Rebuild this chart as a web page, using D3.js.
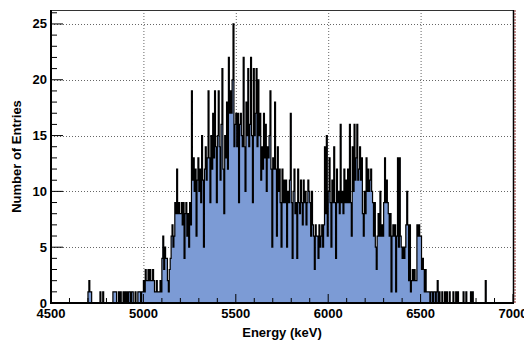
<!DOCTYPE html>
<html>
<head>
<meta charset="utf-8">
<script src="https://cdn.jsdelivr.net/npm/d3@7"></script>
<style>
  html, body { margin: 0; padding: 0; background: #fff; }
  svg { display: block; font-family: "Liberation Sans", Arial, sans-serif; }
  .tick-label { font-size: 13px; font-weight: bold; fill: #000; }
  .axis-title { font-size: 13px; font-weight: bold; fill: #000; }
</style>
</head>
<body>
<div id="chart"></div>
<script>
// Energy spectrum histogram, 5 keV bins from 4500 to 7000 keV

const BIN_START = 4500;
const BIN_WIDTH = 5;

// counts per bin, one row = 100 keV (20 bins)
const counts = [
  /* 4500 */ 0,0,0,0,0,0,0,0,0,0,0,0,0,0,0,0,0,0,0,0,
  /* 4600 */ 0,0,0,0,0,0,0,0,0,0,0,0,0,0,0,0,0,0,0,0,
  /* 4700 */ 1,2,1,1,0,0,0,0,0,0,0,0,0,1,0,0,1,0,0,0,
  /* 4800 */ 0,0,0,0,0,0,0,1,1,1,1,0,0,1,0,1,0,0,1,0,
  /* 4900 */ 1,0,1,0,1,1,0,1,1,0,0,1,0,0,1,1,1,0,1,1,
  /* 5000 */ 2,1,3,2,2,3,2,3,2,2,3,2,1,1,2,1,1,1,2,1,
  /* 5100 */ 4,6,3,5,4,4,2,1,3,4,6,7,5,6,9,8,12,8,9,8,
  /* 5200 */ 8,9,7,9,4,8,9,6,8,5,9,7,19,11,13,10,12,6,11,13,
  /* 5300 */ 10,12,9,15,11,5,12,14,11,13,19,13,9,15,12,17,13,19,14,9,
  /* 5400 */ 15,19,14,11,16,21,12,8,15,13,18,12,22,17,19,17,20,25,14,16,
  /* 5500 */ 17,14,17,9,16,17,15,14,22,14,10,18,15,21,14,16,22,15,9,21,
  /* 5600 */ 15,17,21,14,20,15,17,11,14,12,17,13,16,10,14,13,15,19,12,5,
  /* 5700 */ 13,12,18,12,6,14,10,12,9,5,12,9,11,9,11,5,10,9,11,17,
  /* 5800 */ 9,4,10,12,8,9,4,12,9,8,11,9,7,11,9,10,7,9,11,10,
  /* 5900 */ 9,6,10,7,6,3,7,6,6,4,7,5,6,7,5,7,14,8,15,6,
  /* 6000 */ 10,13,9,5,11,9,14,9,4,12,9,10,8,16,9,10,8,12,9,11,
  /* 6100 */ 9,12,9,16,9,6,14,10,16,11,13,16,11,12,14,11,13,8,6,10,
  /* 6200 */ 8,13,10,12,10,11,12,10,9,6,9,5,3,6,8,6,10,6,7,6,
  /* 6300 */ 9,13,9,11,9,8,6,8,1,6,7,6,7,1,6,13,5,13,6,5,
  /* 6400 */ 4,5,4,5,7,10,7,2,7,1,2,3,2,3,2,2,7,6,7,6,
  /* 6500 */ 6,3,4,3,1,3,1,1,1,1,0,1,1,0,1,1,0,1,2,0,
  /* 6600 */ 1,0,0,1,0,0,1,0,1,0,0,1,0,0,0,1,0,0,1,0,
  /* 6700 */ 1,0,0,0,0,0,1,0,0,1,0,0,0,0,1,0,1,0,0,0,
  /* 6800 */ 0,0,0,0,0,0,0,0,0,0,2,0,0,0,0,0,0,0,0,0,
  /* 6900 */ 0,0,0,0,0,0,0,0,0,0,0,0,0,0,0,0,0,0,0,0
];

const xMajor = [4500, 5000, 5500, 6000, 6500, 7000];
const yMajor = [0, 5, 10, 15, 20, 25];
const xTitle = 'Energy (keV)';
const yTitle = 'Number of Entries';

const W = 524, H = 344;
const m = { left: 51, right: 11, top: 10, bottom: 41 };

const svg = d3.select('#chart').append('svg')
  .attr('width', W).attr('height', H);

const x = d3.scaleLinear().domain([4500, 7000]).range([m.left, W - m.right]);
const y = d3.scaleLinear().domain([0, 26.25]).range([H - m.bottom, m.top]);

const x0 = x.range()[0], x1 = x.range()[1];
const yb = y.range()[0], yt = y.range()[1];

// dotted grid
const grid = svg.append('g')
  .attr('stroke', '#666').attr('stroke-width', 1).attr('stroke-dasharray', '1,2');
grid.selectAll('line.gx')
  .data(xMajor.filter(v => v > 4500 && v < 7000))
  .join('line')
  .attr('x1', d => x(d) + 0.5).attr('x2', d => x(d) + 0.5)
  .attr('y1', yt).attr('y2', yb);
grid.selectAll('line.gy')
  .data(yMajor.filter(v => v > 0))
  .join('line')
  .attr('y1', d => Math.round(y(d)) + 0.5).attr('y2', d => Math.round(y(d)) + 0.5)
  .attr('x1', x0).attr('x2', x1);

// histogram
const pts = counts.map((c, i) => [BIN_START + i * BIN_WIDTH, c]);
pts.push([BIN_START + counts.length * BIN_WIDTH, counts[counts.length - 1]]);

const area = d3.area()
  .x(d => x(d[0])).y0(yb).y1(d => y(d[1]))
  .curve(d3.curveStepAfter);
const line = d3.line()
  .x(d => x(d[0])).y(d => y(d[1]))
  .curve(d3.curveStepAfter);

svg.append('path').datum(pts)
  .attr('d', area)
  .attr('fill', '#7c9bd5');
svg.append('path').datum(pts)
  .attr('d', line)
  .attr('fill', 'none')
  .attr('stroke', '#000')
  .attr('stroke-width', 1.2);

// frame
svg.append('line').attr('x1', x0).attr('x2', x1).attr('y1', yt + 0.5).attr('y2', yt + 0.5)
  .attr('stroke', '#333').attr('stroke-width', 1);
svg.append('line').attr('x1', x1 + 0.5).attr('x2', x1 + 0.5).attr('y1', yt).attr('y2', yb)
  .attr('stroke', '#000').attr('stroke-width', 1.5);
svg.append('line').attr('x1', x1 + 2).attr('x2', x1 + 2).attr('y1', yt).attr('y2', yb + 1)
  .attr('stroke', '#8b2a2a').attr('stroke-width', 1).attr('stroke-dasharray', '2,1');

// axes (ROOT style: ticks inside)
const xAxis = svg.append('g');
xAxis.append('line').attr('x1', x0 - 1).attr('x2', x1 + 1).attr('y1', yb).attr('y2', yb)
  .attr('stroke', '#000').attr('stroke-width', 2);
xAxis.selectAll('line.minor')
  .data(d3.range(4600, 7000, 100).filter(v => v % 500 !== 0))
  .join('line')
  .attr('x1', d => x(d)).attr('x2', d => x(d))
  .attr('y1', yb).attr('y2', yb - 5)
  .attr('stroke', '#000').attr('stroke-width', 1);
xAxis.selectAll('line.major')
  .data(xMajor)
  .join('line')
  .attr('x1', d => x(d)).attr('x2', d => x(d))
  .attr('y1', yb).attr('y2', yb - 9)
  .attr('stroke', '#000').attr('stroke-width', 1);
xAxis.selectAll('text')
  .data(xMajor)
  .join('text')
  .attr('class', 'tick-label')
  .attr('x', d => x(d)).attr('y', yb + 15)
  .attr('text-anchor', 'middle')
  .text(d => d);

const yAxis = svg.append('g');
yAxis.append('line').attr('x1', x0).attr('x2', x0).attr('y1', yt).attr('y2', yb + 1)
  .attr('stroke', '#000').attr('stroke-width', 2);
yAxis.selectAll('line.minor')
  .data(d3.range(1, 27).filter(v => v % 5 !== 0))
  .join('line')
  .attr('x1', x0).attr('x2', x0 + 6)
  .attr('y1', d => y(d)).attr('y2', d => y(d))
  .attr('stroke', '#000').attr('stroke-width', 1);
yAxis.selectAll('line.major')
  .data(yMajor)
  .join('line')
  .attr('x1', x0).attr('x2', x0 + 12)
  .attr('y1', d => y(d)).attr('y2', d => y(d))
  .attr('stroke', '#000').attr('stroke-width', 1);
yAxis.selectAll('text')
  .data(yMajor)
  .join('text')
  .attr('class', 'tick-label')
  .attr('x', x0 - 4).attr('y', d => y(d) + 4.5)
  .attr('text-anchor', 'end')
  .text(d => d);

// titles
svg.append('text').attr('class', 'axis-title')
  .attr('x', (x0 + x1) / 2).attr('y', yb + 34)
  .attr('text-anchor', 'middle')
  .text(xTitle);
svg.append('text').attr('class', 'axis-title')
  .attr('transform', `translate(21,${(yt + yb) / 2}) rotate(-90)`)
  .attr('text-anchor', 'middle')
  .text(yTitle);
</script>
</body>
</html>
